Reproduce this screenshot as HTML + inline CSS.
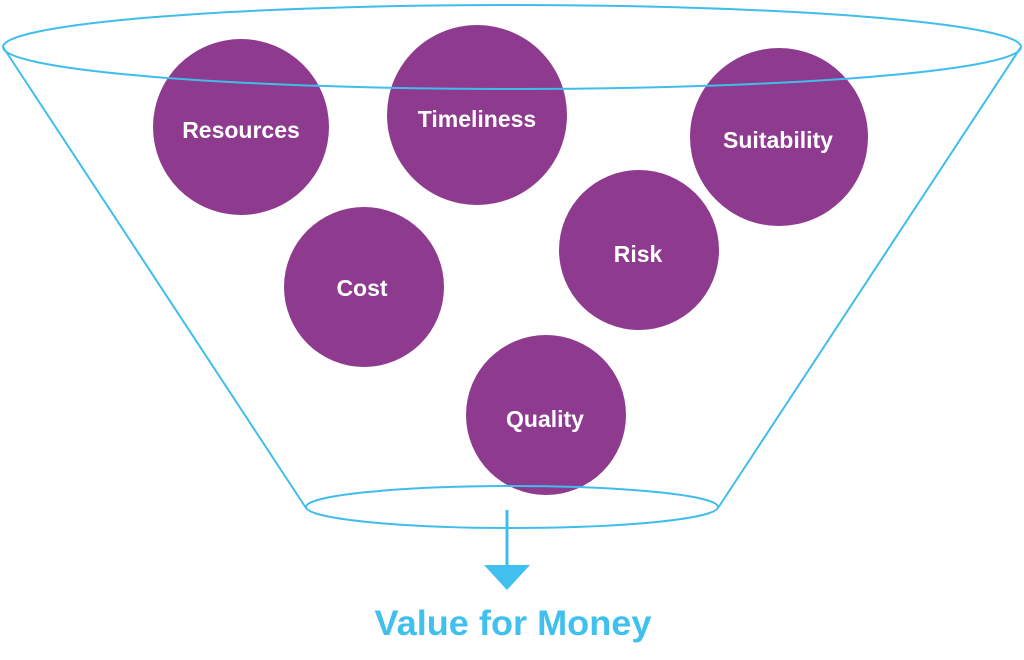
<!DOCTYPE html>
<html><head><style>
html,body{margin:0;padding:0;background:#fff;}
svg{display:block;}
text{font-family:"Liberation Sans",sans-serif;font-weight:bold;}
</style></head><body>
<svg width="1024" height="660" viewBox="0 0 1024 660" xmlns="http://www.w3.org/2000/svg">
<g fill="#8e3a8f">
<circle cx="241" cy="127" r="88"/>
<circle cx="477" cy="115" r="90"/>
<circle cx="779" cy="137" r="89"/>
<circle cx="364" cy="287" r="80"/>
<circle cx="639" cy="250" r="80"/>
<circle cx="546" cy="415" r="80"/>
</g>
<g fill="#fff" font-size="23" text-anchor="middle">
<text x="241" y="138">Resources</text>
<text x="477" y="127">Timeliness</text>
<text x="778" y="148">Suitability</text>
<text x="362" y="296">Cost</text>
<text x="638" y="262">Risk</text>
<text x="545" y="427">Quality</text>
</g>
<g fill="none" stroke="#40bdec" stroke-width="2">
<ellipse cx="512" cy="47" rx="509" ry="42"/>
<ellipse cx="512" cy="507" rx="206" ry="21"/>
<line x1="3" y1="47" x2="306" y2="508"/>
<line x1="1021" y1="47" x2="718" y2="508"/>
<line x1="507" y1="510" x2="507" y2="568" stroke-width="3"/>
</g>
<polygon points="484,565 530,565 507,590" fill="#40c0ef"/>
<text x="513" y="635" font-size="35" fill="#40c0ef" text-anchor="middle" textLength="277" lengthAdjust="spacingAndGlyphs">Value for Money</text>
</svg>
</body></html>
